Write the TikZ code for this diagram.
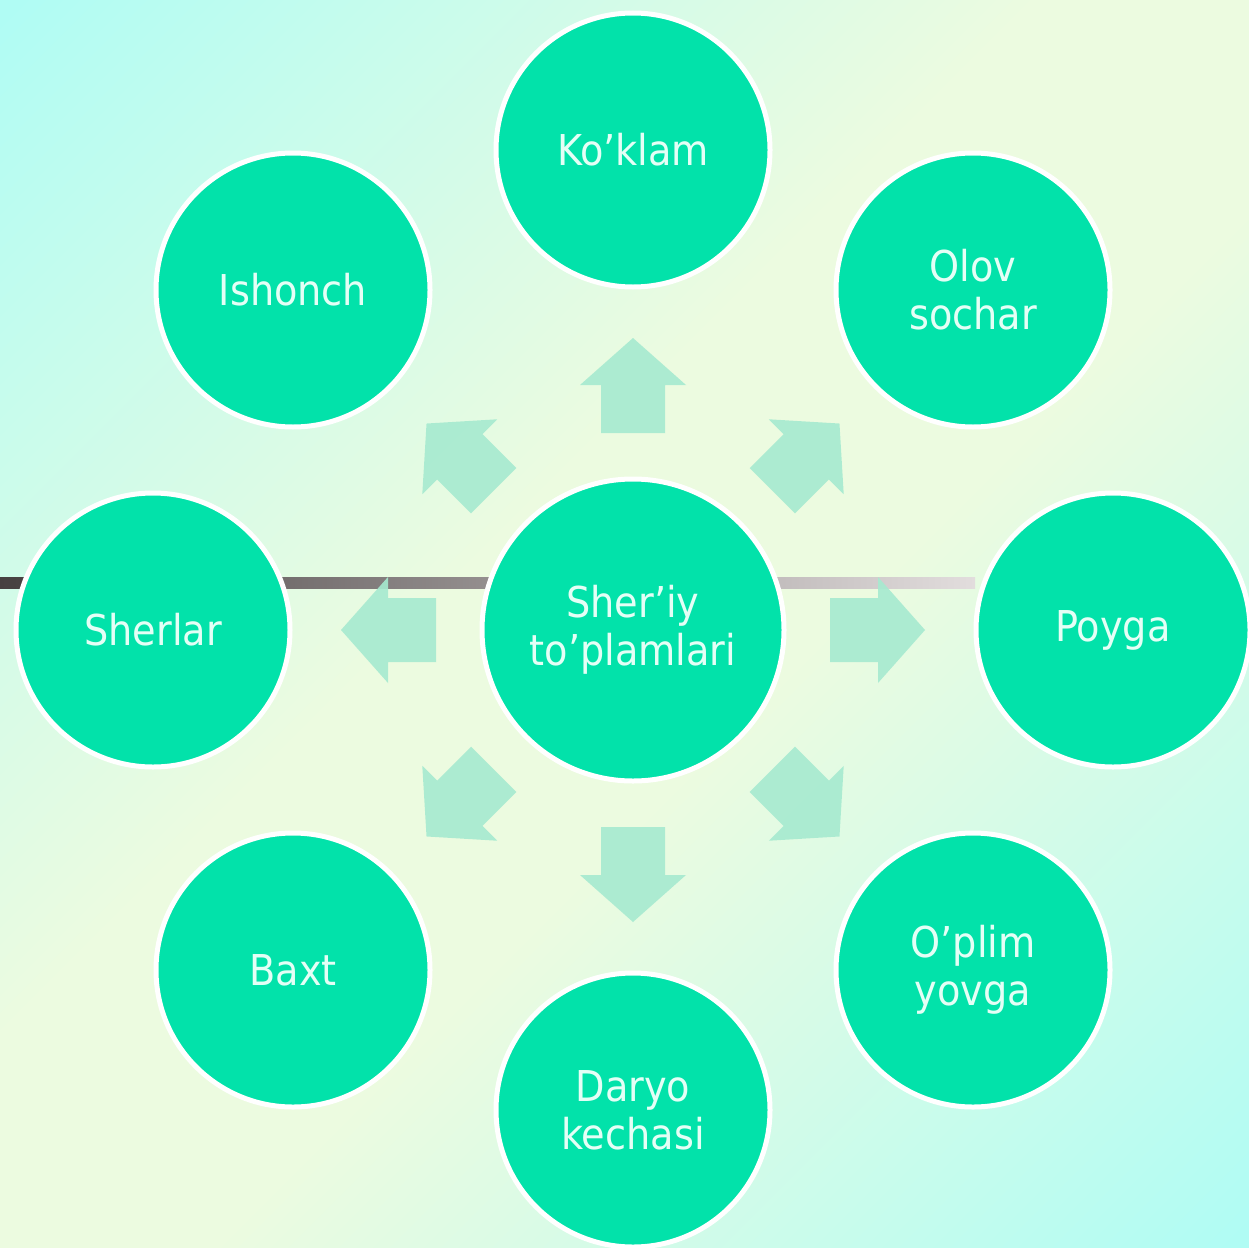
\documentclass[tikz,border=0pt]{standalone}
\usepackage{fontspec}
\setmainfont{DejaVu Sans Condensed}
\definecolor{bgc}{RGB}{176,252,244}
\definecolor{bgm}{RGB}{236,251,224}
\definecolor{circfill}{RGB}{2,226,170}
\definecolor{txtc}{RGB}{228,255,246}
\definecolor{arrfill}{RGB}{166,234,208}
\definecolor{lineL}{RGB}{70,64,64}
\definecolor{lineR}{RGB}{226,221,221}
\pgfdeclarehorizontalshading{bgshade}{100bp}{color(0bp)=(bgc); color(15bp)=(bgc); color(44bp)=(bgm); color(56bp)=(bgm); color(85bp)=(bgc); color(100bp)=(bgc)}
\tikzset{
  bubble/.style={circle, fill=circfill, draw=white, line width=5pt, inner sep=0pt,
    minimum size=274pt, text=txtc, align=center,
    font=\fontsize{42.5}{48}\selectfont},
  hub/.style={bubble, minimum size=302pt},
  blockarrow/.style={fill=arrfill, fill opacity=0.9}
}
\begin{document}
\begin{tikzpicture}[x=1pt,y=1pt]
\useasboundingbox (0,0) rectangle (1249,-1247);
\shade[shading=bgshade, shading angle=-45] (0,0) rectangle (1249,-1247);
% horizontal line
\shade[left color=lineL, right color=lineR] (0,-577) rectangle (975,-588);
% center
\coordinate (c) at (633,-630);
% arrows
\foreach \a in {0,45,...,315}{
  \begin{scope}[shift={(c)}, rotate=\a]
    \fill[blockarrow] (197,-32) -- (245,-32) -- (245,-53) -- (292,0) -- (245,53) -- (245,32) -- (197,32) -- cycle;
  \end{scope}
}
% nodes
\node[hub] (hub) at (c) {Sher’iy\\to’plamlari};
\node[bubble] (n1) at (633,-150) {Ko’klam};
\node[bubble] (n2) at (973,-290) {Olov\\sochar};
\node[bubble] (n3) at (1113,-630) {Poyga};
\node[bubble] (n4) at (973,-970) {O’plim\\yovga};
\node[bubble] (n5) at (633,-1110) {Daryo\\kechasi};
\node[bubble] (n6) at (293,-970) {Baxt};
\node[bubble] (n7) at (153,-630) {Sherlar};
\node[bubble] (n8) at (293,-290) {Ishonch};
\end{tikzpicture}
\end{document}
